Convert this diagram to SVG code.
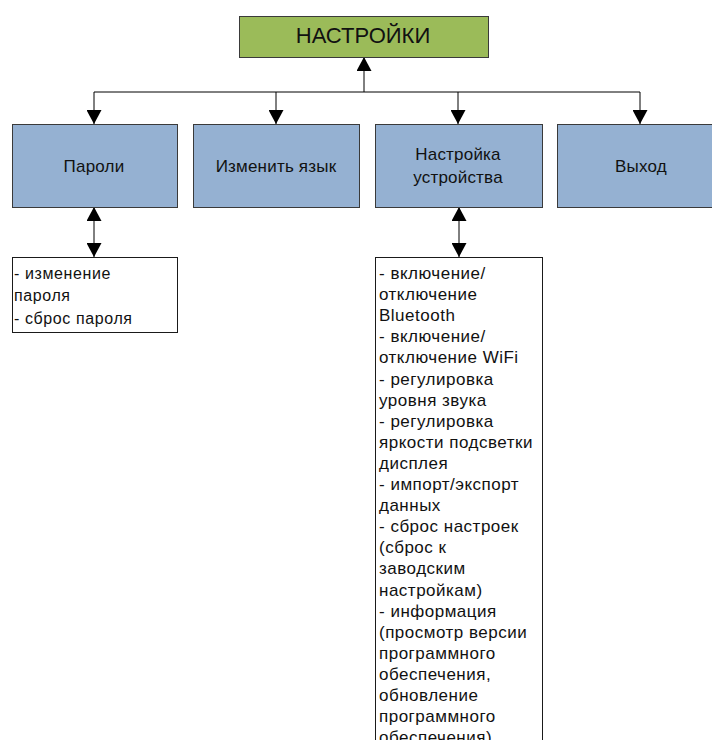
<svg xmlns="http://www.w3.org/2000/svg" width="712" height="740" viewBox="0 0 712 740">
  <style>
    .bg { fill: #ffffff; }
    .root { fill: #9bbb59; stroke: #3a3a3a; stroke-width: 1; }
    .item { fill: #95b1d2; stroke: #3a3a3a; stroke-width: 1; }
    .note { fill: #ffffff; stroke: #1a1a1a; stroke-width: 1; }
    .lbl { font-family: "Liberation Sans", Arial, sans-serif; fill: #111111; }
    .title { font-size: 22px; text-anchor: middle; }
    .head { font-size: 17px; text-anchor: middle; letter-spacing: 0.2px; }
    .txt { font-size: 16px; letter-spacing: 0.6px; }
    .txt2 { font-size: 17px; letter-spacing: 0.5px; }
    .wire { fill: none; stroke: #000000; stroke-width: 1; }
  </style>
  <defs>
    <marker id="arrow" viewBox="0 0 14 15" refX="14" refY="7.5" markerWidth="14" markerHeight="15" markerUnits="userSpaceOnUse" orient="auto-start-reverse">
      <path d="M0,0 L14,7.5 L0,15 Z" fill="#000000"/>
    </marker>
  </defs>

  <rect class="bg" x="0" y="0" width="712" height="740"/>

  <!-- connectors -->
  <g id="connectors">
    <path class="wire" d="M94,92 H640"/>
    <path class="wire" d="M364,92 V57" marker-end="url(#arrow)"/>
    <path class="wire" d="M94,92 V124" marker-end="url(#arrow)"/>
    <path class="wire" d="M276,92 V124" marker-end="url(#arrow)"/>
    <path class="wire" d="M458,92 V124" marker-end="url(#arrow)"/>
    <path class="wire" d="M640,92 V124" marker-end="url(#arrow)"/>
    <path class="wire" d="M94,207 V257" marker-start="url(#arrow)" marker-end="url(#arrow)"/>
    <path class="wire" d="M459,207 V257" marker-start="url(#arrow)" marker-end="url(#arrow)"/>
  </g>

  <!-- root -->
  <g id="settings">
    <rect class="root" x="239.5" y="16.5" width="249" height="41"/>
    <text class="lbl title" x="363" y="43">НАСТРОЙКИ</text>
  </g>

  <!-- menu items -->
  <g id="passwords">
    <rect class="item" x="12.5" y="124.5" width="165" height="83"/>
    <text class="lbl head" x="94" y="172">Пароли</text>
  </g>
  <g id="language">
    <rect class="item" x="193.5" y="124.5" width="166" height="83"/>
    <text class="lbl head" x="276" y="172">Изменить язык</text>
  </g>
  <g id="device">
    <rect class="item" x="375.5" y="124.5" width="167" height="83"/>
    <text class="lbl head" x="458" y="160">Настройка</text>
    <text class="lbl head" x="458" y="183">устройства</text>
  </g>
  <g id="exit">
    <rect class="item" x="557.5" y="124.5" width="166" height="83"/>
    <text class="lbl head" x="641" y="172">Выход</text>
  </g>

  <!-- detail lists -->
  <g id="passwords-list">
    <rect class="note" x="12.5" y="257.5" width="165" height="75"/>
    <text class="lbl txt" x="14" y="279">- изменение</text>
    <text class="lbl txt" x="14" y="301">пароля</text>
    <text class="lbl txt" x="14" y="324">- сброс пароля</text>
  </g>
  <g id="device-list">
    <rect class="note" x="375.5" y="257.5" width="167" height="500"/>
    <text class="lbl txt2" x="379" y="279">- включение/</text>
    <text class="lbl txt2" x="379" y="300.1">отключение</text>
    <text class="lbl txt2" x="379" y="321.2">Bluetooth</text>
    <text class="lbl txt2" x="379" y="342.3">- включение/</text>
    <text class="lbl txt2" x="379" y="363.4">отключение WiFi</text>
    <text class="lbl txt2" x="379" y="384.5">- регулировка</text>
    <text class="lbl txt2" x="379" y="405.6">уровня звука</text>
    <text class="lbl txt2" x="379" y="426.7">- регулировка</text>
    <text class="lbl txt2" x="379" y="447.8">яркости подсветки</text>
    <text class="lbl txt2" x="379" y="468.9">дисплея</text>
    <text class="lbl txt2" x="379" y="490">- импорт/экспорт</text>
    <text class="lbl txt2" x="379" y="511.1">данных</text>
    <text class="lbl txt2" x="379" y="532.2">- сброс настроек</text>
    <text class="lbl txt2" x="379" y="553.3">(сброс к</text>
    <text class="lbl txt2" x="379" y="574.4">заводским</text>
    <text class="lbl txt2" x="379" y="595.5">настройкам)</text>
    <text class="lbl txt2" x="379" y="616.6">- информация</text>
    <text class="lbl txt2" x="379" y="637.7">(просмотр версии</text>
    <text class="lbl txt2" x="379" y="658.8">программного</text>
    <text class="lbl txt2" x="379" y="679.9">обеспечения,</text>
    <text class="lbl txt2" x="379" y="701">обновление</text>
    <text class="lbl txt2" x="379" y="722.1">программного</text>
    <text class="lbl txt2" x="379" y="743.2">обеспечения)</text>
  </g>
</svg>
